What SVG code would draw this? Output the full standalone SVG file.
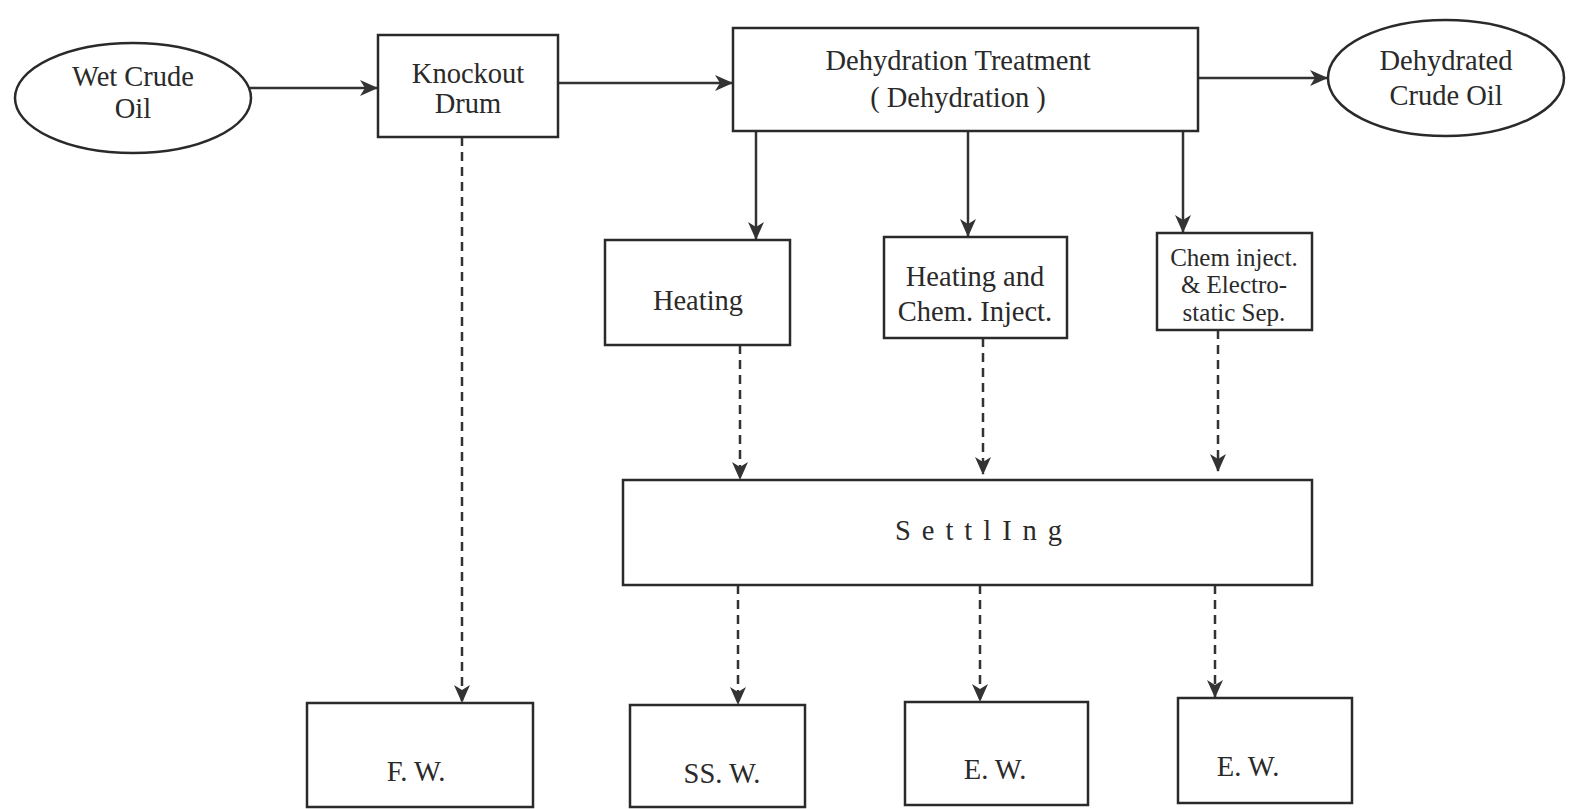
<svg xmlns="http://www.w3.org/2000/svg" width="1569" height="809" viewBox="0 0 1569 809">
<style>
.box{fill:#fff;stroke:#2a2a2a;stroke-width:2.5}
.t{font-family:'Liberation Serif','Times New Roman','DejaVu Serif',serif;font-size:28.5px;fill:#2a2a2a;text-anchor:middle}
.s{font-size:25px}
.c{fill:none;stroke:#333;stroke-width:2.5;marker-end:url(#ah)}
.d{stroke-dasharray:9 6}
</style>
<defs>
<marker id="ah" viewBox="0 0 18 18" refX="17" refY="9" markerWidth="18" markerHeight="18" markerUnits="userSpaceOnUse" orient="auto">
<path d="M0,1 L18,9 L0,17 L5,9 z" fill="#333"/>
</marker>
</defs>
<rect width="1569" height="809" fill="#fff"/>
<g id="connectors">
<path class="c" d="M250,88 H377"/>
<path class="c" d="M558,83 H732"/>
<path class="c" d="M1198,78 H1327"/>
<path class="c" d="M756,131 V239"/>
<path class="c" d="M968,131 V236"/>
<path class="c" d="M1183,131 V232"/>
<path class="c d" d="M462,137 V702"/>
<path class="c d" d="M740,345 V479"/>
<path class="c d" d="M983,338 V474"/>
<path class="c d" d="M1218,330 V471"/>
<path class="c d" d="M738,585 V704"/>
<path class="c d" d="M980,585 V701"/>
<path class="c d" d="M1215,585 V697"/>
</g>
<g id="wet-crude-oil">
<ellipse class="box" cx="133" cy="98" rx="118" ry="55"/>
<text class="t" x="133" y="86">Wet Crude</text>
<text class="t" x="133" y="118">Oil</text>
</g>
<g id="knockout-drum">
<rect class="box" x="378" y="35" width="180" height="102"/>
<text class="t" x="468" y="83">Knockout</text>
<text class="t" x="468" y="113">Drum</text>
</g>
<g id="dehydration-treatment">
<rect class="box" x="733" y="28" width="465" height="103"/>
<text class="t" x="958" y="70">Dehydration Treatment</text>
<text class="t" x="958" y="107">( Dehydration )</text>
</g>
<g id="dehydrated-crude-oil">
<ellipse class="box" cx="1446" cy="78" rx="118" ry="58"/>
<text class="t" x="1446" y="70">Dehydrated</text>
<text class="t" x="1446" y="105">Crude Oil</text>
</g>
<g id="heating">
<rect class="box" x="605" y="240" width="185" height="105"/>
<text class="t" x="698" y="310">Heating</text>
</g>
<g id="heating-chem">
<rect class="box" x="884" y="237" width="183" height="101"/>
<text class="t" x="975" y="286">Heating and</text>
<text class="t" x="975" y="321">Chem. Inject.</text>
</g>
<g id="chem-electro">
<rect class="box" x="1157" y="233" width="155" height="97"/>
<text class="t s" x="1234" y="266">Chem inject.</text>
<text class="t s" x="1234" y="293">&amp; Electro-</text>
<text class="t s" x="1234" y="321">static Sep.</text>
</g>
<g id="settling">
<rect class="box" x="623" y="480" width="689" height="105"/>
<text class="t" x="984" y="540" style="letter-spacing:11px">SettlIng</text>
</g>
<g id="fw">
<rect class="box" x="307" y="703" width="226" height="104"/>
<text class="t" x="416" y="781">F. W.</text>
</g>
<g id="ssw">
<rect class="box" x="630" y="705" width="175" height="102"/>
<text class="t" x="722" y="783">SS. W.</text>
</g>
<g id="ew1">
<rect class="box" x="905" y="702" width="183" height="103"/>
<text class="t" x="995" y="779">E. W.</text>
</g>
<g id="ew2">
<rect class="box" x="1178" y="698" width="174" height="105"/>
<text class="t" x="1248" y="776">E. W.</text>
</g>
</svg>
